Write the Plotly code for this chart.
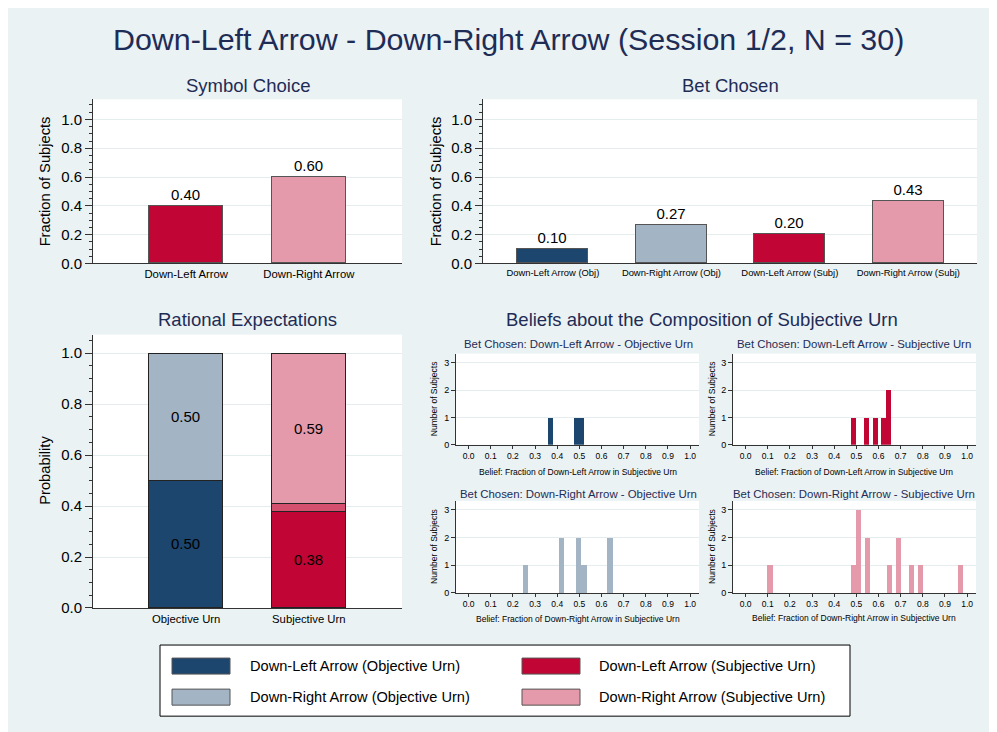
import plotly.graph_objects as go

W, H = 997, 732
OFF = 8        # page body margin offset of the figure inside the window
KY = 0.9876    # vertical scale observed between figure pixels and the photographed page

# ---------------- data ----------------
symbol_labels = ["Down-Left Arrow", "Down-Right Arrow"]
symbol_frac = [0.40, 0.60]

bet_labels = ["Down-Left Arrow (Obj)", "Down-Right Arrow (Obj)",
              "Down-Left Arrow (Subj)", "Down-Right Arrow (Subj)"]
bet_frac = [0.10, 0.267, 0.20, 0.433]

urn_labels = ["Objective Urn", "Subjective Urn"]
urn_down_left = [0.50, 0.38]
urn_down_right = [0.50, 0.59]

hist_dl_obj_x = [0.370, 0.487, 0.511]
hist_dl_obj_n = [1, 1, 1]
hist_dl_subj_x = [0.486, 0.546, 0.587, 0.622, 0.646]
hist_dl_subj_n = [1, 1, 1, 1, 2]
hist_dr_obj_x = [0.257, 0.418, 0.497, 0.521, 0.638]
hist_dr_obj_n = [1, 2, 2, 1, 2]
hist_dr_subj_x = [0.110, 0.489, 0.511, 0.550, 0.649, 0.689, 0.749, 0.788, 0.970]
hist_dr_subj_n = [1, 1, 3, 2, 1, 2, 1, 1, 1]

legend_labels = ["Down-Left Arrow (Objective Urn)", "Down-Right Arrow (Objective Urn)",
                 "Down-Left Arrow (Subjective Urn)", "Down-Right Arrow (Subjective Urn)"]

main_title = "Down-Left Arrow - Down-Right Arrow (Session 1/2, N = 30)"
panel_titles = ["Symbol Choice", "Bet Chosen", "Rational Expectations",
                "Beliefs about the Composition of Subjective Urn"]
hist_titles = ["Bet Chosen: Down-Left Arrow - Objective Urn",
               "Bet Chosen: Down-Left Arrow - Subjective Urn",
               "Bet Chosen: Down-Right Arrow - Objective Urn",
               "Bet Chosen: Down-Right Arrow - Subjective Urn"]
hist_xtitles = ["Belief: Fraction of Down-Left Arrow in Subjective Urn",
                "Belief: Fraction of Down-Left Arrow in Subjective Urn",
                "Belief: Fraction of Down-Right Arrow in Subjective Urn",
                "Belief: Fraction of Down-Right Arrow in Subjective Urn"]

# ---------------- style ----------------
C_DL_OBJ = "#1c466e"
C_DR_OBJ = "#a3b4c5"
C_DL_SUBJ = "#c10534"
C_DR_SUBJ = "#e59aab"
C_MID = "#d5506f"
BG = "#eaf2f3"
NAVY = "#1e2c56"
GRID = "#e4ecee"
AX = "#333333"
FONT = "Liberation Sans, Arial, sans-serif"


def px(x):
    return (x - OFF) / W


def py(y):
    return 1 - (y / KY - OFF) / H


def xd(a, b):
    return [px(a), px(b)]


def yd(top, bottom):
    return [py(bottom), py(top)]


fig = go.Figure()

# Panel 1: symbol choice
fig.add_trace(go.Bar(x=[0, 1], y=symbol_frac, width=0.6,
                     marker=dict(color=[C_DL_SUBJ, C_DR_SUBJ], line=dict(color="#555555", width=1)),
                     text=[f"{v:.2f}" for v in symbol_frac], textposition="outside",
                     textfont=dict(size=15, color="black"), cliponaxis=False,
                     xaxis="x", yaxis="y"))

# Panel 2: bet chosen
fig.add_trace(go.Bar(x=list(range(len(bet_frac))), y=bet_frac, width=0.6,
                     marker=dict(color=[C_DL_OBJ, C_DR_OBJ, C_DL_SUBJ, C_DR_SUBJ],
                                 line=dict(color="#555555", width=1)),
                     text=[f"{v:.2f}" for v in bet_frac], textposition="outside",
                     textfont=dict(size=15, color="black"), cliponaxis=False,
                     xaxis="x2", yaxis="y2"))

# Panel 3: rational expectations (stacked)
mid_gap = 1 - urn_down_left[1] - urn_down_right[1]
stack = [
    (0, urn_down_left[0], C_DL_OBJ, f"{urn_down_left[0]:.2f}"),
    (0, urn_down_right[0], C_DR_OBJ, f"{urn_down_right[0]:.2f}"),
    (1, urn_down_left[1], C_DL_SUBJ, f"{urn_down_left[1]:.2f}"),
    (1, mid_gap, C_MID, ""),
    (1, urn_down_right[1], C_DR_SUBJ, f"{urn_down_right[1]:.2f}"),
]
for xv, yv, col, txt in stack:
    fig.add_trace(go.Bar(x=[xv], y=[yv], width=0.6,
                         marker=dict(color=col, line=dict(color="#222222", width=1)),
                         text=[txt], textposition="inside", insidetextanchor="middle",
                         textangle=0, insidetextfont=dict(size=15, color="black"),
                         xaxis="x3", yaxis="y3"))

# Histograms
hists = [(hist_dl_obj_x, hist_dl_obj_n, C_DL_OBJ),
         (hist_dl_subj_x, hist_dl_subj_n, C_DL_SUBJ),
         (hist_dr_obj_x, hist_dr_obj_n, C_DR_OBJ),
         (hist_dr_subj_x, hist_dr_subj_n, C_DR_SUBJ)]
for i, (hx, hn, col) in enumerate(hists):
    k = i + 4
    fig.add_trace(go.Bar(x=hx, y=hn, width=0.023,
                         marker=dict(color=col, line=dict(width=0)),
                         xaxis=f"x{k}", yaxis=f"y{k}"))

# ---------------- axes ----------------
yax_common = dict(showline=True, linecolor=AX, linewidth=1, ticks="outside", ticklen=7,
                  tickcolor=AX, tickformat=".1f", dtick=0.2, tick0=0, showgrid=True,
                  gridcolor=GRID, gridwidth=1, zeroline=False,
                  minor=dict(dtick=0.05, ticklen=3, tickcolor=AX, showgrid=False, ticks="outside"),
                  tickfont=dict(size=15, color="black", family=FONT), fixedrange=True)
xbar_common = dict(showline=True, linecolor=AX, linewidth=1, ticks="", showgrid=False,
                   zeroline=False, fixedrange=True)

layout = dict(
    width=W, height=H, autosize=False,
    margin=dict(l=0, r=0, t=0, b=0),
    paper_bgcolor=BG, plot_bgcolor="white",
    showlegend=False, barmode="stack", bargap=0,
    font=dict(family=FONT, color="black"),
)

layout["xaxis"] = dict(xbar_common, domain=xd(93, 402), range=[-0.76, 1.76], anchor="y",
                       tickvals=[0, 1], ticktext=symbol_labels, tickfont=dict(size=11.3, color="black"))
layout["yaxis"] = dict(yax_common, domain=yd(99, 263), range=[0, 1.14], anchor="x")

layout["xaxis2"] = dict(xbar_common, domain=xd(483, 977), range=[-0.59, 3.58], anchor="y2",
                        tickvals=list(range(len(bet_labels))), ticktext=bet_labels,
                        tickfont=dict(size=9.4, color="black"))
layout["yaxis2"] = dict(yax_common, domain=yd(99, 263), range=[0, 1.14], anchor="x2")

layout["xaxis3"] = dict(xbar_common, domain=xd(93, 402), range=[-0.76, 1.76], anchor="y3",
                        tickvals=[0, 1], ticktext=urn_labels, tickfont=dict(size=11.3, color="black"))
layout["yaxis3"] = dict(yax_common, domain=yd(334, 607), range=[0, 1.073], anchor="x3")

sub_x = [(456, 699), (733, 976), (456, 699), (733, 976)]
sub_y = [(353, 444), (353, 444), (500, 592), (500, 592)]
for i in range(4):
    k = i + 4
    layout[f"xaxis{k}"] = dict(showline=True, linecolor=AX, linewidth=1, ticks="outside", ticklen=3,
                               tickcolor=AX, tick0=0, dtick=0.1, tickformat=".1f",
                               range=[-0.057, 1.04], domain=xd(*sub_x[i]), anchor=f"y{k}",
                               showgrid=False, zeroline=False, fixedrange=True,
                               tickfont=dict(size=8.5, color="black"))
    layout[f"yaxis{k}"] = dict(showline=True, linecolor=AX, linewidth=1, ticks="outside", ticklen=4,
                               tickcolor=AX, tick0=0, dtick=1, range=[0, 3.33],
                               domain=yd(*sub_y[i]), anchor=f"x{k}", showgrid=True,
                               gridcolor=GRID, zeroline=False, fixedrange=True,
                               tickfont=dict(size=9, color="black"))

fig.update_layout(**layout)

# ---------------- annotations ----------------
ann = []


def text(x, y, s, size, color=NAVY, angle=0, xanchor="center"):
    ann.append(dict(x=px(x), y=py(y), xref="paper", yref="paper", text=s, showarrow=False,
                    xanchor=xanchor, yanchor="middle", textangle=angle,
                    font=dict(size=size, color=color, family=FONT)))


text(508, 39, main_title, 30.4)
text(247.5, 85, panel_titles[0], 18.5)
text(730, 85, panel_titles[1], 18.5)
text(247.5, 319, panel_titles[2], 18.5)
text(702, 319, panel_titles[3], 18.5)

text(45, 181, "Fraction of Subjects", 14.7, color="black", angle=-90)
text(436, 181, "Fraction of Subjects", 14.7, color="black", angle=-90)
text(45, 470, "Probability", 14.7, color="black", angle=-90)

hist_title_pos = [(578, 343), (854, 343), (578, 493), (854, 493)]
hist_xt_pos = [(578, 471), (854, 471), (578, 618), (854, 617)]
hist_yt_x = [434, 712, 434, 712]
for i in range(4):
    text(*hist_title_pos[i], hist_titles[i], 11.4)
    text(*hist_xt_pos[i], hist_xtitles[i], 8.5, color="black")
    cy = (sub_y[i][0] + sub_y[i][1]) / 2
    text(hist_yt_x[i], cy, "Number of Subjects", 8.5, color="black", angle=-90)

# legend (drawn box)
shapes = [
    dict(type="rect", xref="paper", yref="paper", x0=px(160), x1=px(850), y0=py(715), y1=py(644),
         fillcolor="white", line=dict(color="black", width=1)),
]
legend_colors = [C_DL_OBJ, C_DR_OBJ, C_DL_SUBJ, C_DR_SUBJ]
sw_x = [(172, 230), (172, 230), (522, 580), (522, 580)]
tx_x = [248, 248, 597, 597]
row_y = [665, 696, 665, 696]
for i, lab in enumerate(legend_labels):
    shapes.append(dict(type="rect", xref="paper", yref="paper", x0=px(sw_x[i][0]), x1=px(sw_x[i][1]),
                       y0=py(row_y[i] + 8), y1=py(row_y[i] - 8),
                       fillcolor=legend_colors[i], line=dict(color="#555555", width=1)))
    text(tx_x[i], row_y[i], lab, 14.6, color="black", xanchor="left")

fig.update_layout(annotations=ann, shapes=shapes)

fig.write_html("out.html")
